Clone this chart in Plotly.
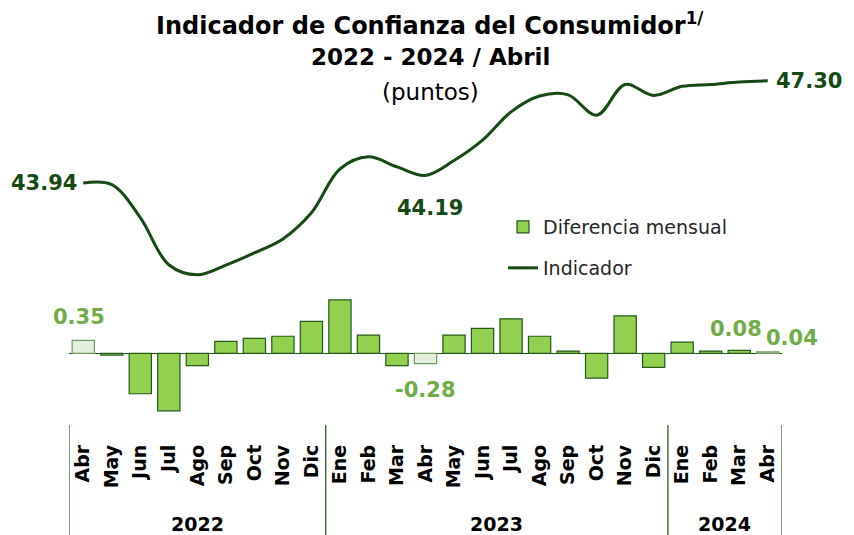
import plotly.graph_objects as go

months = ["Abr", "May", "Jun", "Jul", "Ago", "Sep", "Oct", "Nov", "Dic",
          "Ene", "Feb", "Mar", "Abr", "May", "Jun", "Jul", "Ago", "Sep", "Oct", "Nov", "Dic",
          "Ene", "Feb", "Mar", "Abr"]
year_labels = ["2022", "2023", "2024"]
year_counts = [9, 12, 4]
indicador = [43.94, 43.89, 42.80, 41.25, 40.92, 41.24, 41.64, 42.10, 42.96,
             44.40, 44.80, 44.47, 44.19, 44.68, 45.35, 46.28, 46.80, 46.84, 46.17, 47.18, 46.82,
             47.12, 47.18, 47.26, 47.30]
diferencia = [0.35, -0.05, -1.09, -1.55, -0.33, 0.32, 0.40, 0.46, 0.86,
              1.44, 0.49, -0.33, -0.28, 0.49, 0.67, 0.93, 0.46, 0.06, -0.67, 1.01, -0.38,
              0.30, 0.06, 0.08, 0.04]

FONT = "DejaVu Sans"
DARK = "#154a12"
LABEL_GREEN = "#70ad47"
BAR_GREEN = "#92d050"
BAR_EDGE = "#1f5a16"
x = list(range(len(months)))
highlight = [i for i, m in enumerate(months) if m == "Abr"]
bar_fill = ["#e2efda" if i in highlight else BAR_GREEN for i in x]
bar_line = ["#6f9a60" if i in highlight else BAR_EDGE for i in x]

fig = go.Figure()
fig.add_trace(go.Bar(
    x=x, y=diferencia, name="Diferencia mensual", showlegend=False,
    marker=dict(color=bar_fill, line=dict(color=bar_line, width=1.2)),
    yaxis="y",
))
# legend entry for the bars (plain green swatch as in the reference)
fig.add_trace(go.Bar(
    x=[None], y=[None], name="Diferencia mensual",
    marker=dict(color=BAR_GREEN, line=dict(color=BAR_EDGE, width=1.2)),
    legend="legend", yaxis="y",
))
fig.add_trace(go.Scatter(
    x=x, y=indicador, name="Indicador", mode="lines",
    line=dict(color=DARK, width=3, shape="spline", smoothing=1.0),
    legend="legend2", yaxis="y2",
))

H_PLOT = 420.0
annotations = []
titles = [("<b>Indicador de Confianza del Consumidor<sup>1/</sup></b>", 24, 24),
          ("<b>2022 - 2024 / Abril</b>", 57, 23),
          ("(puntos)", 92, 23)]
for t, py, fs in titles:
    annotations.append(dict(text=t, x=430 / 854, y=(H_PLOT - py) / H_PLOT, xref="paper", yref="paper",
                            xanchor="center", yanchor="middle", showarrow=False,
                            font=dict(family=FONT, size=fs, color="#000000")))


def lab(i, ytext, yref, xanchor, xshift, yshift, color):
    annotations.append(dict(text="<b>%.2f</b>" % ytext, x=i, y=ytext, xref="x", yref=yref,
                            xanchor=xanchor, yanchor="middle", xshift=xshift, yshift=yshift,
                            showarrow=False, font=dict(family=FONT, size=21, color=color)))


lab(0, indicador[0], "y2", "right", -4, 0, DARK)
lab(12, indicador[12], "y2", "center", 4, -33, DARK)
lab(24, indicador[24], "y2", "left", 6, 0, DARK)
lab(0, diferencia[0], "y", "center", -4, 23, LABEL_GREEN)
lab(12, diferencia[12], "y", "center", 0, -26, LABEL_GREEN)
lab(23, diferencia[23], "y", "center", -3, 21, LABEL_GREEN)
lab(24, diferencia[24], "y", "center", 24, 14, LABEL_GREEN)

shapes = []
start = 0
bounds = [-0.5]
for yl, c in zip(year_labels, year_counts):
    center = start + (c - 1) / 2
    annotations.append(dict(text="<b>%s</b>" % yl, x=center, y=(H_PLOT - 524) / H_PLOT, xref="x", yref="paper",
                            xanchor="center", yanchor="middle", showarrow=False,
                            font=dict(family=FONT, size=19, color="#000000")))
    start += c
    bounds.append(start - 0.5)
for b in bounds:
    shapes.append(dict(type="line", x0=b, x1=b, xref="x", yref="paper",
                       y0=(H_PLOT - 425) / H_PLOT, y1=(H_PLOT - 535) / H_PLOT,
                       line=dict(color="#2e5e26", width=1.3)))

fig.update_layout(
    width=854, height=535,
    margin=dict(l=0, r=0, t=0, b=115),
    paper_bgcolor="white", plot_bgcolor="white",
    barmode="overlay", bargap=0.22,
    font=dict(family=FONT),
    xaxis=dict(domain=[69 / 854, 782 / 854], range=[-0.5, 24.5], tickmode="array",
               tickvals=x, ticktext=months, tickangle=-90, showgrid=False, showline=False,
               ticks="", zeroline=False, ticklabelstandoff=20,
               tickfont=dict(family=FONT, size=19, color="#000000", weight="bold")),
    yaxis=dict(range=[-1.798, 9.523], showticklabels=False, showgrid=False,
               zeroline=True, zerolinecolor=BAR_EDGE, zerolinewidth=1.2, fixedrange=True),
    yaxis2=dict(range=[36.144, 49.96], overlaying="y", showticklabels=False, showgrid=False,
                zeroline=False),
    legend=dict(x=503 / 854, y=(H_PLOT - 208) / H_PLOT, xanchor="left", yanchor="top",
                bgcolor="rgba(0,0,0,0)", font=dict(family=FONT, size=19, color="#262626")),
    legend2=dict(x=503 / 854, y=(H_PLOT - 249) / H_PLOT, xanchor="left", yanchor="top",
                 bgcolor="rgba(0,0,0,0)", font=dict(family=FONT, size=19, color="#262626")),
    annotations=annotations,
    shapes=shapes,
    showlegend=True,
)

fig.write_html("out.html", config={"displayModeBar": False},
               post_script="document.body.style.margin='0px';")
